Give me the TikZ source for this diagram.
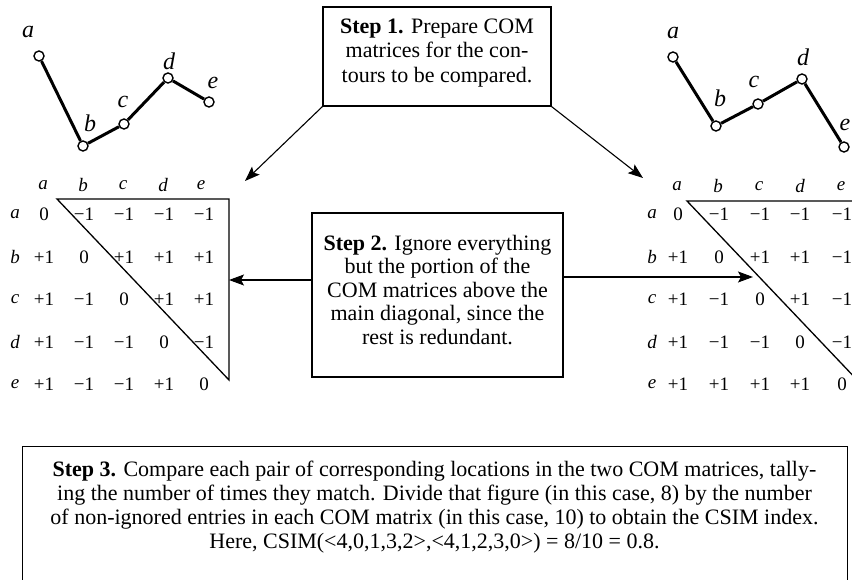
\documentclass[tikz,border=0pt]{standalone}
\usepackage{fontspec}
\setmainfont{Liberation Serif}
\usetikzlibrary{arrows.meta}
\begin{document}
\begin{tikzpicture}[x=1pt,y=-1pt,
  boxframe/.style={draw,line width=1.1pt,inner sep=0pt},
  boxtext/.style={align=center,inner sep=0pt,font=\fontsize{22}{24.5}\selectfont},
  arr/.style={line width=1.1pt,-{Stealth[length=15pt,width=11pt,inset=3pt]}},
  vtx/.style={circle,draw,fill=white,line width=1.4pt,minimum size=10pt,inner sep=0pt},
  contour/.style={line width=3pt},
  lbl/.style={inner sep=0pt,font=\fontsize{24}{24}\selectfont\itshape},
  cell/.style={inner sep=0pt,font=\fontsize{19}{19}\selectfont},
  hdr/.style={inner sep=0pt,font=\fontsize{19}{19}\selectfont\itshape},
  tri/.style={line width=1.3pt}]
\useasboundingbox (0,0) rectangle (852,580);

% ---------- left contour ----------
\node[vtx] (La) at (39,56) {};
\node[vtx] (Lb) at (83,146) {};
\node[vtx] (Lc) at (124,124) {};
\node[vtx] (Ld) at (168,78) {};
\node[vtx] (Le) at (209,102) {};
\draw[contour] (La) -- (Lb) -- (Lc) -- (Ld) -- (Le);
\node[lbl] (Lla) at (28,32) {a};
\node[lbl] (Llb) at (90,123) {b};
\node[lbl] (Llc) at (123,102) {c};
\node[lbl] (Lld) at (169,61) {d};
\node[lbl] (Lle) at (213,83) {e};

% ---------- right contour ----------
\node[vtx] (Ra) at (673,57) {};
\node[vtx] (Rb) at (716,126) {};
\node[vtx] (Rc) at (758,104) {};
\node[vtx] (Rd) at (802,79) {};
\node[vtx] (Re) at (844,147) {};
\draw[contour] (Ra) -- (Rb) -- (Rc) -- (Rd) -- (Re);
\node[lbl] (Rla) at (673,33) {a};
\node[lbl] (Rlb) at (720,98) {b};
\node[lbl] (Rlc) at (754,82) {c};
\node[lbl] (Rld) at (803,57) {d};
\node[lbl] (Rle) at (845,125) {e};

% ---------- left matrix ----------
\foreach \n/\x in {a/43,b/83,c/123,d/163,e/201}
  \node[hdr] (LH\n) at (\x,185) {\n};
\foreach \n/\y in {a/214,b/257,c/299,d/342,e/384}
  \node[hdr] (LR\n) at (15,\y) {\n};
\foreach \r/\y/\va/\vb/\vc/\vd/\ve in {
   a/214/0/−1/−1/−1/−1,
   b/257/+1/0/+1/+1/+1,
   c/299/+1/−1/0/+1/+1,
   d/342/+1/−1/−1/0/−1,
   e/384/+1/−1/−1/+1/0}{
  \node[cell] (L\r a) at (44,\y) {\va};
  \node[cell] (L\r b) at (84,\y) {\vb};
  \node[cell] (L\r c) at (124,\y) {\vc};
  \node[cell] (L\r d) at (164,\y) {\vd};
  \node[cell] (L\r e) at (204,\y) {\ve};
}
\coordinate (LT1) at (57,199);
\coordinate (LT2) at (229,199);
\coordinate (LT3) at (229,380);
\coordinate (LIn) at (229,280);
\draw[tri] (LT1) -- (LT2) -- (LT3) -- cycle;

% ---------- right matrix ----------
\foreach \n/\x in {a/677,b/718,c/759,d/800,e/841}
  \node[hdr] (RH\n) at (\x,186) {\n};
\foreach \n/\y in {a/214,b/257,c/299,d/342,e/384}
  \node[hdr] (RR\n) at (652,\y) {\n};
\foreach \r/\y/\va/\vb/\vc/\vd/\ve in {
   a/214/0/−1/−1/−1/−1,
   b/257/+1/0/+1/+1/−1,
   c/299/+1/−1/0/+1/−1,
   d/342/+1/−1/−1/0/−1,
   e/384/+1/+1/+1/+1/0}{
  \node[cell] (R\r a) at (678,\y) {\va};
  \node[cell] (R\r b) at (719,\y) {\vb};
  \node[cell] (R\r c) at (760,\y) {\vc};
  \node[cell] (R\r d) at (800,\y) {\vd};
  \node[cell] (R\r e) at (842,\y) {\ve};
}
\coordinate (RT1) at (687,201);
\coordinate (RT2) at (860,201);
\coordinate (RT3) at (860,383);
\coordinate (RIn) at (753,277);
\draw[tri] (RT1) -- (RT2) -- (RT3) -- cycle;

% ---------- Step 1 ----------
\node[boxframe,minimum width=228pt,minimum height=99pt] (s1) at (437,56.5) {};
\node[boxtext] (s1t) at (437,53) {\textbf{Step 1.} Prepare COM\\matrices for the con-\\tours to be compared.};
\coordinate (LArr) at (245,181);
\coordinate (RArr) at (643,178);
\draw[arr] (s1.south west) -- (LArr);
\draw[arr] (s1.south east) -- (RArr);

% ---------- Step 2 ----------
\node[boxframe,minimum width=251pt,minimum height=164pt] (s2) at (437.5,295) {};
\node[boxtext,font=\fontsize{22}{23.5}\selectfont] (s2t) at (437.5,290) {\textbf{Step 2.} Ignore everything\\but the portion of the\\COM matrices above the\\main diagonal, since the\\rest is redundant.};
\draw[arr] (s2.west |- LIn) -- (LIn);
\draw[arr] (s2.east |- RIn) -- (RIn);

% ---------- Step 3 ----------
\node[boxframe,minimum width=825pt,minimum height=150pt,anchor=north west] (s3) at (22,446) {};
\node[boxtext,font=\fontsize{22}{24}\selectfont] (s3t) at (434.5,507) {\textbf{Step 3.} Compare each pair of corresponding locations in the two COM matrices, tally-\\ing the number of times they match. Divide that figure (in this case, 8) by the number\\of non-ignored entries in each COM matrix (in this case, 10) to obtain the CSIM index.\\Here, CSIM(<4,0,1,3,2>,<4,1,2,3,0>) = 8/10 = 0.8.};
\end{tikzpicture}
\end{document}
